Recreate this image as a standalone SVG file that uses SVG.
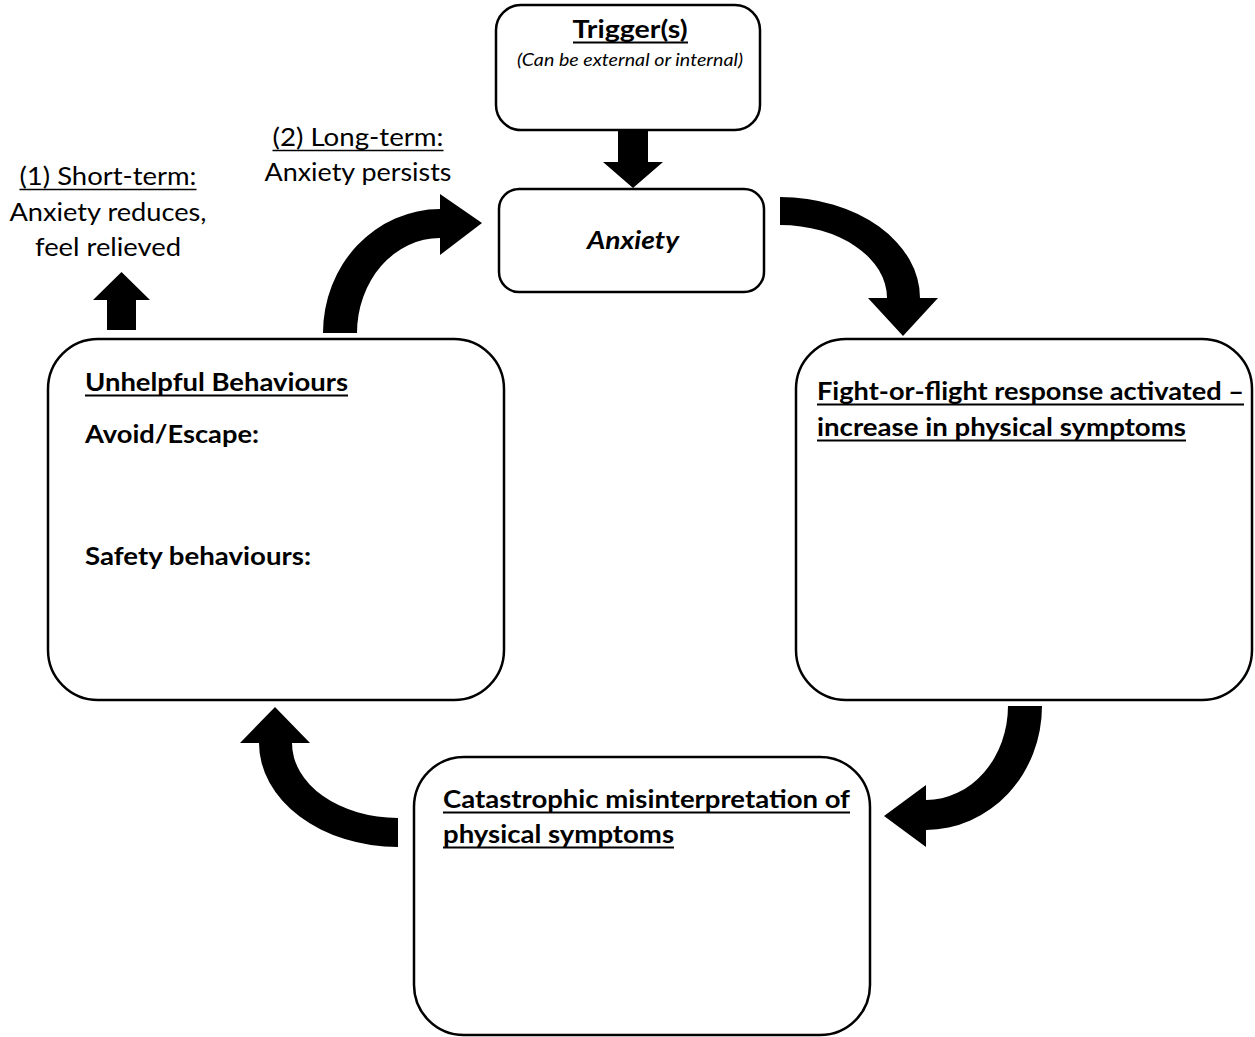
<svg xmlns="http://www.w3.org/2000/svg" width="1255" height="1037" viewBox="0 0 1255 1037">
<style>
.box{fill:#fff;stroke:#000;stroke-width:2.5}
.arr{fill:#000;stroke:none}
.t{font-family:Lato,"Open Sans","Liberation Sans",sans-serif;fill:#000}
.reg{font-size:24.5px}
.b{font-size:25.5px;font-weight:bold}
.sm{font-size:17px;font-style:italic}
.ul{stroke:#000;stroke-width:1.6}
.ulb{stroke:#000;stroke-width:2}
</style>
<rect x="0" y="0" width="1255" height="1037" fill="#fff"/>
<g id="connectors">
<path class="arr" d="M618,130 L648,130 L648,162 L663,162 L633,188 L603,162 L618,162 Z"/>
<path class="arr" d="M107,330 L107,300 L93,300 L121.5,272 L150,300 L136,300 L136,330 Z"/>
<path class="arr" d="M323,333 A117,124 0 0 1 440,209 L440,194 L482,223 L440,255 L440,238 A83,95 0 0 0 357,333 Z"/>
<path class="arr" d="M780,197 A140,101 0 0 1 920,298 L938,298 L903,336 L868,298 L887,298 A107,73 0 0 0 780,225 Z"/>
<path class="arr" d="M1042,706 A116,124 0 0 1 926,830 L926,847 L884,816 L926,785 L926,800 A82,94 0 0 0 1008,706 Z"/>
<path class="arr" d="M398,847 A139,104 0 0 1 259,743 L240,743 L275,707 L310,743 L292,743 A106,75 0 0 0 398,818 Z"/>
</g>
<g id="trigger">
<rect class="box" x="496" y="5" width="264" height="125" rx="25"/>
<text class="t b" x="630" y="38" text-anchor="middle" textLength="115" lengthAdjust="spacingAndGlyphs">Trigger(s)</text>
<line class="ulb" x1="573" y1="42.5" x2="688" y2="42.5"/>
<text class="t sm" x="630" y="66" text-anchor="middle" textLength="226" lengthAdjust="spacingAndGlyphs">(Can be external or internal)</text>
</g>
<g id="anxiety">
<rect class="box" x="499" y="189" width="265" height="103" rx="20"/>
<text class="t b" font-style="italic" x="633" y="249" text-anchor="middle" textLength="92" lengthAdjust="spacingAndGlyphs">Anxiety</text>
</g>
<g id="short-term">
<text class="t reg" x="108" y="185" text-anchor="middle" textLength="177" lengthAdjust="spacingAndGlyphs">(1) Short-term:</text>
<line class="ul" x1="19.5" y1="189.5" x2="196.5" y2="189.5"/>
<text class="t reg" x="108" y="221" text-anchor="middle" textLength="197" lengthAdjust="spacingAndGlyphs">Anxiety reduces,</text>
<text class="t reg" x="108" y="256" text-anchor="middle" textLength="146" lengthAdjust="spacingAndGlyphs">feel relieved</text>
</g>
<g id="long-term">
<text class="t reg" x="358" y="146" text-anchor="middle" textLength="171" lengthAdjust="spacingAndGlyphs">(2) Long-term:</text>
<line class="ul" x1="272.5" y1="150.5" x2="443.5" y2="150.5"/>
<text class="t reg" x="358" y="181" text-anchor="middle" textLength="187" lengthAdjust="spacingAndGlyphs">Anxiety persists</text>
</g>
<g id="unhelpful">
<rect class="box" x="48" y="339" width="456" height="361" rx="50"/>
<text class="t b" x="85" y="391" textLength="263" lengthAdjust="spacingAndGlyphs">Unhelpful Behaviours</text>
<line class="ulb" x1="85" y1="395.5" x2="348" y2="395.5"/>
<text class="t b" x="85" y="443" textLength="174" lengthAdjust="spacingAndGlyphs">Avoid/Escape:</text>
<text class="t b" x="85" y="565" textLength="226" lengthAdjust="spacingAndGlyphs">Safety behaviours:</text>
</g>
<g id="fight">
<rect class="box" x="796" y="339" width="456" height="361" rx="50"/>
<text class="t b" x="817" y="400" textLength="427" lengthAdjust="spacingAndGlyphs">Fight-or-flight response activated –</text>
<line class="ulb" x1="817" y1="404.5" x2="1244" y2="404.5"/>
<text class="t b" x="817" y="436" textLength="369" lengthAdjust="spacingAndGlyphs">increase in physical symptoms</text>
<line class="ulb" x1="817" y1="440.5" x2="1186" y2="440.5"/>
</g>
<g id="catastrophic">
<rect class="box" x="414" y="757" width="456" height="278" rx="50"/>
<text class="t b" x="443" y="808" textLength="407" lengthAdjust="spacingAndGlyphs">Catastrophic misinterpretation of</text>
<line class="ulb" x1="443" y1="812.5" x2="850" y2="812.5"/>
<text class="t b" x="443" y="843" textLength="231" lengthAdjust="spacingAndGlyphs">physical symptoms</text>
<line class="ulb" x1="443" y1="847.5" x2="674" y2="847.5"/>
</g>
</svg>
